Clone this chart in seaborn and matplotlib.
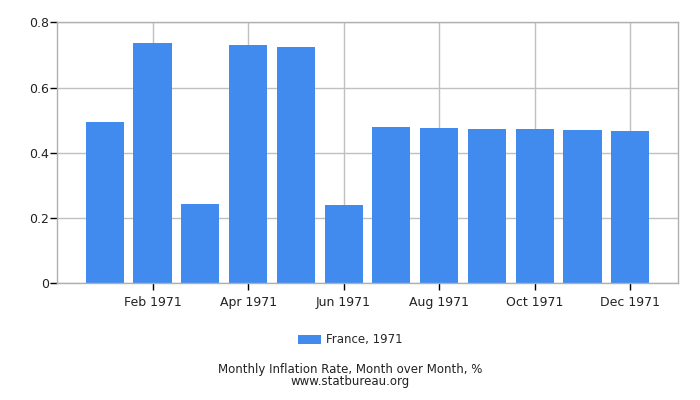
import numpy as np
import pandas as pd
import matplotlib
matplotlib.use("Agg")
import matplotlib.pyplot as plt
import seaborn as sns

# Monthly inflation, France 1971 (month over month, %)
months = ["Jan 1971", "Feb 1971", "Mar 1971", "Apr 1971", "May 1971", "Jun 1971",
          "Jul 1971", "Aug 1971", "Sep 1971", "Oct 1971", "Nov 1971", "Dec 1971"]
rates = [0.494, 0.737, 0.243, 0.731, 0.724, 0.240,
         0.479, 0.476, 0.473, 0.473, 0.470, 0.467]
series_name = "France, 1971"
yticks = [0, 0.2, 0.4, 0.6, 0.8]
ytick_labels = ["0", "0.2", "0.4", "0.6", "0.8"]

df = pd.DataFrame({"month": months, "rate": rates, "series": series_name})

sns.set_theme(style="white")
plt.rcParams['font.family'] = ['DejaVu Sans']

fig = plt.figure(figsize=(7, 4), dpi=100)
ax = fig.add_axes([0.0814, 0.2918, 0.8872, 0.6522])

sns.barplot(data=df, x="month", y="rate", hue="series", palette=["#418BEE"],
            width=0.8, saturation=1, linewidth=0, ax=ax, legend=True)

ax.set_xlim(-1, 12)
ax.set_ylim(0, 0.8)
ax.set_yticks(yticks)
ax.set_yticklabels(ytick_labels)
tick_pos = list(range(1, 12, 2))
ax.set_xticks(tick_pos)
ax.set_xticklabels([months[i] for i in tick_pos])
ax.set_xlabel("")
ax.set_ylabel("")

ax.grid(True, color="#C0C0C0", linewidth=1)
ax.set_axisbelow(True)
for s in ax.spines.values():
    s.set_color("#B0B0B0")
    s.set_linewidth(1)
ax.tick_params(axis="both", which="both", bottom=True, left=True, length=5, width=1,
               color="black", labelsize=9, labelcolor="#222222", direction="out")
ax.tick_params(axis="x", pad=4)
ax.tick_params(axis="y", pad=1)

handles, labels = ax.get_legend_handles_labels()
ax.get_legend().remove()
fig.legend(handles, labels, loc="center", bbox_to_anchor=(0.5, 0.15), frameon=False,
           fontsize=8.5, handlelength=2.0, handleheight=0.8, handletextpad=0.4)

fig.text(0.5, 0.077, "Monthly Inflation Rate, Month over Month, %", ha="center",
         va="center", fontsize=8.5, color="#222222")
fig.text(0.5, 0.046, "www.statbureau.org", ha="center", va="center",
         fontsize=8.5, color="#222222")

fig.savefig("out.png", dpi=100)
